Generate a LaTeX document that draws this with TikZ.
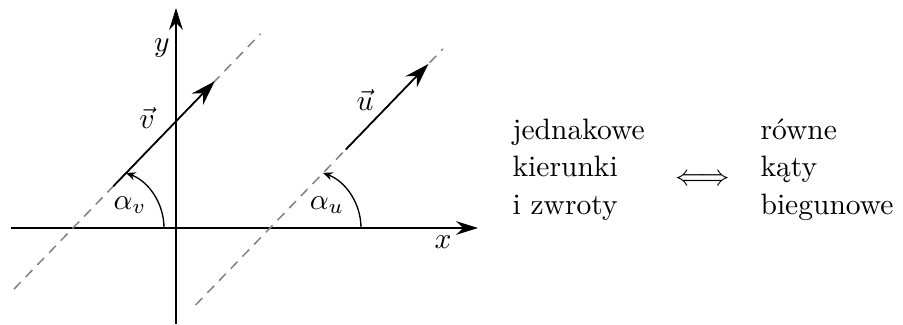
\documentclass[tikz,border=0pt]{standalone}
\usetikzlibrary{positioning, arrows.meta, calc}

\begin{document}
\begin{tikzpicture}[
  x=0.0119cm, y=0.0119cm,
  >=Stealth,
  % --- line styles ---
  axis/.style={
    line width=0.5pt,
    -{Stealth[length=7.4pt, width=4.6pt, inset=2.4pt]}
  },
  vec/.style={
    line width=0.6pt,
    -{Stealth[length=8.4pt, width=5.4pt, inset=2.8pt]}
  },
  guide/.style={
    gray, line width=0.5pt, dash pattern=on 3.3pt off 2.4pt
  },
  ang/.style={
    line width=0.45pt, -{Stealth[length=3.2pt, width=2.8pt]}
  },
  lbl/.style={inner sep=1pt},
  txt/.style={align=left, inner sep=0pt, font=\fontsize{10}{12.7}\selectfont},
]
\useasboundingbox (0,0) rectangle (903,324);

% ══════════════════════════════════════════════
% AXES
% ══════════════════════════════════════════════

\coordinate (O)  at (176,96);
\coordinate (xl) at (11,96);
\coordinate (xr) at (478,96);
\coordinate (yb) at (176,0);
\coordinate (yt) at (176,316);

\draw[axis] (xl) -- (xr);
\draw[axis] (yb) -- (yt);

\node[lbl] (xlab) at (443,82)  {$x$};
\node[lbl] (ylab) at (162,276) {$y$};

% ══════════════════════════════════════════════
% VECTOR v
% ══════════════════════════════════════════════

\coordinate (A)   at (73,96);
\coordinate (va)  at ($(A)+(226:85)$);
\coordinate (vb)  at ($(A)+(46:270)$);
\coordinate (v0)  at ($(A)+(46:58)$);
\coordinate (v1)  at ($(A)+(46:204)$);
\coordinate (av0) at ($(A)+(91,0)$);

\draw[guide] (va) -- (vb);
\draw[vec] (v0) -- (v1);
\draw[ang] (av0) arc[start angle=0, end angle=69, radius=59];

\node[lbl] (vlab)  at (147,206) {$\vec{v}$};
\node[lbl] (avlab) at (130,119) {$\alpha_v$};

% ══════════════════════════════════════════════
% VECTOR u
% ══════════════════════════════════════════════

\coordinate (B)   at (270,96);
\coordinate (ua)  at ($(B)+(226:107)$);
\coordinate (ub)  at ($(B)+(46:249)$);
\coordinate (u0)  at ($(B)+(46:109)$);
\coordinate (u1)  at ($(B)+(46:228)$);
\coordinate (au0) at ($(B)+(91,0)$);

\draw[guide] (ua) -- (ub);
\draw[vec] (u0) -- (u1);
\draw[ang] (au0) arc[start angle=0, end angle=69, radius=59];

\node[lbl] (ulab)  at (365,224) {$\vec{u}$};
\node[lbl] (aulab) at (327,119) {$\alpha_u$};

% ══════════════════════════════════════════════
% STATEMENT
% ══════════════════════════════════════════════

\node[txt, anchor=north west] (kier) at (512,206)
  {jednakowe\\kierunki\\i zwroty};
\node[txt, anchor=north west] (kat) at (760,206)
  {równe\\kąty\\biegunowe};
\node (rown) at (703,144) {$\Longleftrightarrow$};

\end{tikzpicture}
\end{document}
